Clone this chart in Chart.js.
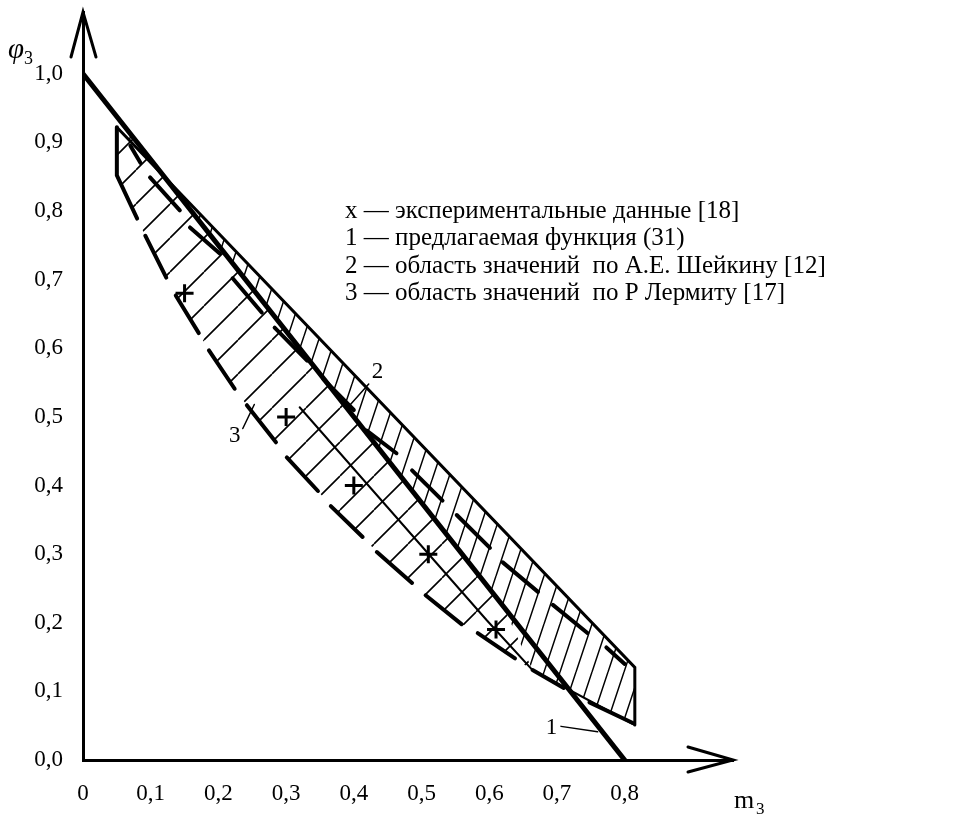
<!DOCTYPE html>
<html>
<head>
<meta charset="utf-8">
<script src="https://cdn.jsdelivr.net/npm/chart.js@4.4.1/dist/chart.umd.min.js"></script>
<style>
  html, body { margin: 0; padding: 0; background: #fff; }
  #wrap { width: 974px; height: 818px; }
</style>
</head>
<body>
<div id="wrap"><canvas id="phi-chart"></canvas></div>
<script>
/* оси */
const xTickValues = [0, 0.1, 0.2, 0.3, 0.4, 0.5, 0.6, 0.7, 0.8];
const xTickLabels = ['0', '0,1', '0,2', '0,3', '0,4', '0,5', '0,6', '0,7', '0,8'];
const yTickValues = [0, 0.1, 0.2, 0.3, 0.4, 0.5, 0.6, 0.7, 0.8, 0.9, 1.0];
const yTickLabels = ['0,0', '0,1', '0,2', '0,3', '0,4', '0,5', '0,6', '0,7', '0,8', '0,9', '1,0'];

/* x — экспериментальные данные [18] */
const expM   = [0.15, 0.30, 0.40, 0.51, 0.61];
const expPhi = [0.68, 0.50, 0.40, 0.30, 0.19];

/* 1 — предлагаемая функция (31) */
const funcM   = [0, 0.8];
const funcPhi = [1.0, 0.0];

/* 2 — область по Шейкину: верхняя и нижняя границы */
const sheikinUpperM   = [0.05, 0.815, 0.815];
const sheikinUpperPhi = [0.922, 0.135, 0.051];
const sheikinLowerM   = [0.815, 0.664, 0.62, 0.062];
const sheikinLowerPhi = [0.051, 0.131, 0.225, 0.9225];
const sheikinThinM    = [0.32, 0.596, 0.664, 0.815];
const sheikinThinPhi  = [0.514, 0.204, 0.131, 0.051];

/* 3 — область по Лермиту: верхняя граница и «гребёнка» снизу */
const lermitUpperM   = [0.05, 0.062, 0.62, 0.664];
const lermitUpperPhi = [0.922, 0.9225, 0.225, 0.131];
const combM   = [0.05, 0.05, 0.08, null, 0.092, 0.123, null, 0.137, 0.171, null, 0.186, 0.224, null,
                 0.242, 0.285, null, 0.301, 0.347, null, 0.366, 0.413, null, 0.434, 0.486, null,
                 0.506, 0.559, null, 0.583, 0.638, null, 0.664, 0.71, null, 0.748, 0.812];
const combPhi = [0.922, 0.852, 0.789, null, 0.764, 0.703, null, 0.677, 0.622, null, 0.597, 0.541, null,
                 0.517, 0.463, null, 0.441, 0.392, null, 0.370, 0.325, null, 0.303, 0.258, null,
                 0.240, 0.198, null, 0.185, 0.148, null, 0.131, 0.105, null, 0.084, 0.054];
const dashM   = [0.07, 0.085, null, 0.099, 0.143, null, 0.158, 0.202, null, 0.221, 0.264, null,
                 0.283, 0.331, null, 0.355, 0.40, null, 0.419, 0.463, null, 0.486, 0.531, null,
                 0.552, 0.601, null, 0.620, 0.672, null, 0.694, 0.745, null, 0.773, 0.80];
const dashPhi = [0.895, 0.870, null, 0.849, 0.801, null, 0.776, 0.738, null, 0.702, 0.652, null,
                 0.630, 0.582, null, 0.555, 0.510, null, 0.480, 0.447, null, 0.422, 0.378, null,
                 0.357, 0.309, null, 0.288, 0.245, null, 0.226, 0.185, null, 0.164, 0.14];

/* подписи кривых */
const curveLabels = [
  { text: '1', m: 0.692, phi: 0.047, from: [0.706, 0.049], to: [0.76, 0.041] },
  { text: '2', m: 0.435, phi: 0.565, from: [0.422, 0.548], to: [0.395, 0.518] },
  { text: '3', m: 0.224, phi: 0.472, from: [0.236, 0.483], to: [0.253, 0.518] },
];
const legendLines = [
  'x — экспериментальные данные [18]',
  '1 — предлагаемая функция (31)',
  '2 — область значений  по А.Е. Шейкину [12]',
  '3 — область значений  по Р Лермиту [17]',
];

const pts = (ms, ps) => ms.map((m, i) => ({ x: m, y: ps[i] }));

function hatch(w, h, lw) {
  const c = document.createElement('canvas');
  c.width = w; c.height = h;
  const g = c.getContext('2d');
  g.strokeStyle = '#000';
  g.lineWidth = lw;
  g.beginPath();
  for (const dx of [-w, 0, w]) { g.moveTo(dx, h); g.lineTo(dx + w, 0); }
  g.stroke();
  return g.createPattern(c, 'repeat');
}

const sheikinShape = pts(sheikinUpperM, sheikinUpperPhi).concat(pts(sheikinLowerM, sheikinLowerPhi));
const lermitShape = pts(lermitUpperM, lermitUpperPhi)
  .concat(pts(combM, combPhi).filter(p => p.x !== null).reverse());

const lineSet = (data, width, extra) => Object.assign({
  data: data, showLine: true, borderColor: '#000', borderWidth: width,
  pointRadius: 0, fill: false, tension: 0, spanGaps: false, order: 2,
  borderCapStyle: 'round'
}, extra || {});

const data = {
  datasets: [
    { data: expM.map((m, i) => ({ x: m, y: expPhi[i] })), pointStyle: 'cross', pointRadius: 9,
      borderColor: '#000', borderWidth: 3, showLine: false, order: 0 },
    lineSet(pts(funcM, funcPhi), 5, { order: 1 }),
    lineSet(pts(sheikinUpperM, sheikinUpperPhi), 3),
    lineSet(pts(sheikinThinM, sheikinThinPhi), 2),
    lineSet(pts(combM, combPhi), 4),
    lineSet(pts(dashM, dashPhi), 4),
    { data: sheikinShape, showLine: true, borderWidth: 0, borderColor: 'rgba(0,0,0,0)',
      pointRadius: 0, fill: 'shape', backgroundColor: hatch(16, 48, 1.5), order: 10 },
    { data: lermitShape, showLine: true, borderWidth: 0, borderColor: 'rgba(0,0,0,0)',
      pointRadius: 0, fill: 'shape', backgroundColor: hatch(34, 34, 1.6), order: 11 },
  ]
};

const annotations = {
  id: 'annotations',
  afterDraw(chart) {
    const { ctx, chartArea: a, scales: { x, y } } = chart;
    ctx.save();
    ctx.strokeStyle = '#000';
    ctx.fillStyle = '#000';
    ctx.lineWidth = 3;
    ctx.lineCap = 'round';
    // стрелки осей
    ctx.beginPath();
    ctx.moveTo(a.left - 12, a.top + 45); ctx.lineTo(a.left, a.top); ctx.lineTo(a.left + 13, a.top + 45);
    ctx.moveTo(a.right - 45, a.bottom - 13); ctx.lineTo(a.right, a.bottom); ctx.lineTo(a.right - 45, a.bottom + 12);
    ctx.stroke();
    // подписи осей
    ctx.textBaseline = 'alphabetic';
    ctx.textAlign = 'left';
    ctx.font = 'italic 29px "Liberation Serif"';
    ctx.fillText('φ', 8, 58);
    ctx.font = '18px "Liberation Serif"';
    ctx.fillText('3', 24, 64);
    ctx.font = '26px "Liberation Serif"';
    ctx.fillText('m', 734, 808);
    ctx.font = '17px "Liberation Serif"';
    ctx.fillText('3', 756, 814);
    // подписи кривых
    ctx.font = '23px "Liberation Serif"';
    ctx.textAlign = 'center';
    ctx.textBaseline = 'middle';
    ctx.lineWidth = 1.5;
    curveLabels.forEach(l => {
      ctx.fillText(l.text, x.getPixelForValue(l.m), y.getPixelForValue(l.phi));
      ctx.beginPath();
      ctx.moveTo(x.getPixelForValue(l.from[0]), y.getPixelForValue(l.from[1]));
      ctx.lineTo(x.getPixelForValue(l.to[0]), y.getPixelForValue(l.to[1]));
      ctx.stroke();
    });
    // легенда
    ctx.font = '25px "Liberation Serif"';
    ctx.textAlign = 'left';
    legendLines.forEach((t, i) => ctx.fillText(t, 345, 211 + i * 27.5));
    ctx.restore();
  }
};

const config = {
  type: 'scatter',
  data: data,
  options: {
    responsive: true,
    maintainAspectRatio: false,
    animation: false,
    layout: { padding: { top: 11, right: 241, left: 0, bottom: 0 } },
    plugins: {
      legend: { display: false },
      tooltip: { enabled: false }
    },
    scales: {
      x: {
        type: 'linear', min: 0, max: 0.96,
        afterFit: s => { s.height = 58; s.paddingLeft = 0; s.paddingRight = 0; },
        afterBuildTicks: s => { s.ticks = xTickValues.map(v => ({ value: v })); },
        grid: { display: false, drawTicks: false },
        border: { display: true, color: '#000', width: 3 },
        ticks: {
          color: '#000', padding: 20, maxRotation: 0, autoSkip: false,
          font: { family: 'Liberation Serif', size: 23 },
          callback: (v, i) => xTickLabels[i]
        }
      },
      y: {
        type: 'linear', min: 0, max: 1.09,
        afterFit: s => { s.width = 83; s.paddingTop = 0; s.paddingBottom = 0; },
        afterBuildTicks: s => { s.ticks = yTickValues.map(v => ({ value: v })); },
        grid: { display: false, drawTicks: false },
        border: { display: true, color: '#000', width: 3 },
        ticks: {
          color: '#000', padding: 20, autoSkip: false,
          font: { family: 'Liberation Serif', size: 23 },
          callback: (v, i) => yTickLabels[i]
        }
      }
    }
  },
  plugins: [annotations]
};

const phiChart = new Chart(document.getElementById('phi-chart'), config);
</script>
</body>
</html>
